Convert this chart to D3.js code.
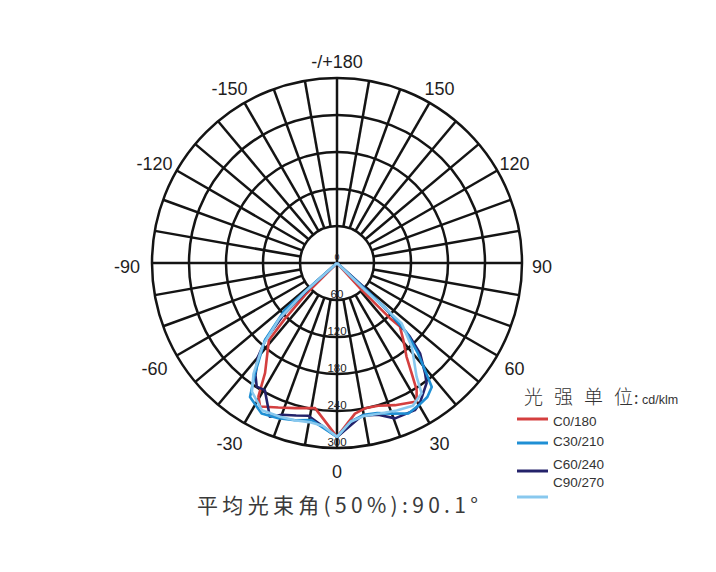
<!DOCTYPE html>
<html>
<head>
<meta charset="utf-8">
<script src="https://cdn.jsdelivr.net/npm/d3@7"></script>
<style>
  html, body { margin: 0; padding: 0; background: #fff; }
  svg { display: block; }
</style>
</head>
<body>
<div id="chart"></div>
<script>
// ---- data (angle in degrees from 0 = downward, positive to the right; value in cd/klm) ----
const c0_180_angles  = [-46,-45,-43,-41.4,-33.2,-30.5,-28.2,-22.1,-16.1,-8.6,0,6.8,10.9,16.1,22.2,29.9,32.1,34.1,36.6,40.7,44.7,43.8,42.4,42.4];
const c0_180_values  = [0,70,125,167,213,251,264,253,245,238,282,246,240,241,249,259,243,216,189,165,145,124,59,0];
const c30_210_angles = [-49,-48.3,-48,-43.1,-36.6,-33,-26.6,-20.7,-15,-9.2,0,5,10,15,20,25.4,30,34,37.4,39,42,45,47,47.5];
const c30_210_values = [0,66,114,171,223,259,273,269,264,258,282,258,250,252,260,270,266,262,253,230,195,160,110,0];
const c60_240_angles = [-48,-48,-46,-43,-40,-36,-33,-29.6,-23.6,-20,-15,-10.6,0,9.2,15.2,20.5,27.9,30.6,36.7,38.6,42.6,44.7,46.5,48,48];
const c60_240_values = [0,60,120,170,200,225,239,237,272,262,256,252,282,251,255,269,270,264,243,229,199,168,118,57,0];
const c90_270_angles = [-48,-48,-46,-42,-37,-33.5,-27,-20.3,-15,-10,-5,0,5,10,16,22,28,33,35,41.8,47,46,46];
const c90_270_values = [0,70,130,180,225,250,268,266,264,262,265,282,258,252,254,258,262,252,225,182,143,63,0];
const seriesNames = ["C0/180","C30/210","C60/240","C90/270"];
const ringValues = [60,120,180,240,300];
const tickAngles = [0,30,60,90,120,150,180,-150,-120,-90,-60,-30];
const tickLabels = ["0","30","60","90","120","150","-/+180","-150","-120","-90","-60","-30"];
const legendTitle = "光强单位";
const legendUnit = "cd/klm";
const footer = "平均光束角(50%):90.1°";

// ---- layout ----
const W = 716, H = 572, cx = 337, cy = 263, R = 185;
const colors = ["#d43f3f","#1f8fd4","#24226a","#88c8ee"];
const drawOrder = [0,2,1,3];

const svg = d3.select("#chart").append("svg").attr("width", W).attr("height", H);
svg.append("rect").attr("width", W).attr("height", H).attr("fill", "#fff");

const r = d3.scaleLinear().domain([0, 300]).range([0, R]);
const toRad = d => d * Math.PI / 180;
const px = (deg, rad) => cx + rad * Math.sin(toRad(deg));
const py = (deg, rad) => cy + rad * Math.cos(toRad(deg));

const g = svg.append("g");
const gridColor = "#141414";

// rings
g.selectAll("circle.ring").data(ringValues).enter().append("circle")
  .attr("cx", cx).attr("cy", cy).attr("r", d => r(d))
  .attr("fill", "none").attr("stroke", gridColor).attr("stroke-width", 2.5);

// spokes every 10 degrees from inner ring to outer ring (axes through centre)
const spokeAngles = d3.range(0, 360, 10);
g.selectAll("line.spoke").data(spokeAngles).enter().append("line")
  .attr("x1", d => px(d, d % 90 === 0 ? 0 : r(ringValues[0])))
  .attr("y1", d => py(d, d % 90 === 0 ? 0 : r(ringValues[0])))
  .attr("x2", d => px(d, r(300)))
  .attr("y2", d => py(d, r(300)))
  .attr("stroke", gridColor).attr("stroke-width", 2.5);

// angle labels
const LR = 205;
g.selectAll("text.tl").data(tickAngles).enter().append("text")
  .attr("x", d => px(d, LR) - (d < 0 ? 5 : 0))
  .attr("y", d => py(d, LR) + 3 + 6.5)
  .attr("text-anchor", "middle")
  .attr("font-family", "Liberation Sans, Arial, sans-serif")
  .attr("font-size", 18).attr("fill", "#1e1e1e")
  .text((d, i) => tickLabels[i]);

// curves
const allAngles = [c0_180_angles, c30_210_angles, c60_240_angles, c90_270_angles];
const allValues = [c0_180_values, c30_210_values, c60_240_values, c90_270_values];
const line = d3.lineRadial()
  .angle(d => Math.PI - toRad(d[0]))
  .radius(d => r(d[1]))
  .curve(d3.curveLinear);
const cg = svg.append("g").attr("transform", `translate(${cx},${cy})`);
drawOrder.forEach(si => {
  const pts = allAngles[si].map((a, i) => [a, allValues[si][i]]);
  cg.append("path").attr("d", line(pts))
    .attr("fill", "none").attr("stroke", colors[si])
    .attr("stroke-width", 2.6).attr("stroke-linejoin", "round");
});

// ring labels (on top)
svg.selectAll("text.rl").data(ringValues).enter().append("text")
  .attr("x", cx).attr("y", d => cy + r(d) - 2)
  .attr("text-anchor", "middle")
  .attr("font-family", "Liberation Sans, Arial, sans-serif")
  .attr("font-size", 11.5).attr("fill", "#222")
  .text(d => d);
svg.append("text").attr("x", cx).attr("y", cy - 3).attr("text-anchor", "middle")
  .attr("font-family", "Liberation Sans, Arial, sans-serif")
  .attr("font-size", 9).attr("fill", "#222").text("0");

// legend
svg.append("text").attr("x", 524).attr("y", 404)
  .attr("font-family", "Noto Sans CJK SC, sans-serif")
  .attr("font-size", 19).attr("font-weight", 300).attr("fill", "#333")
  .attr("textLength", 109).attr("lengthAdjust", "spacing")
  .text(legendTitle);
svg.append("text").attr("x", 634).attr("y", 404)
  .attr("font-family", "Noto Sans CJK SC, sans-serif")
  .attr("font-size", 16).attr("fill", "#333").text(":");
svg.append("text").attr("x", 642).attr("y", 404)
  .attr("font-family", "Liberation Sans, Arial, sans-serif")
  .attr("font-size", 12.5).attr("fill", "#333").text(legendUnit);

const lineYs = [419, 443, 471, 497];
const textYs = [426, 446, 469, 487];
seriesNames.forEach((n, i) => {
  svg.append("line").attr("x1", 517).attr("x2", 548)
    .attr("y1", lineYs[i]).attr("y2", lineYs[i])
    .attr("stroke", colors[i]).attr("stroke-width", 3);
  svg.append("text").attr("x", 553).attr("y", textYs[i])
    .attr("font-family", "Liberation Sans, Arial, sans-serif")
    .attr("font-size", 13.5).attr("fill", "#333").text(n);
});

// footer
svg.append("text").attr("x", 197).attr("y", 513)
  .attr("font-family", "Noto Sans CJK SC, sans-serif")
  .attr("font-size", 21).attr("fill", "#3a3a3a")
  .attr("textLength", 281).attr("lengthAdjust", "spacing")
  .text(footer);
</script>
</body>
</html>
